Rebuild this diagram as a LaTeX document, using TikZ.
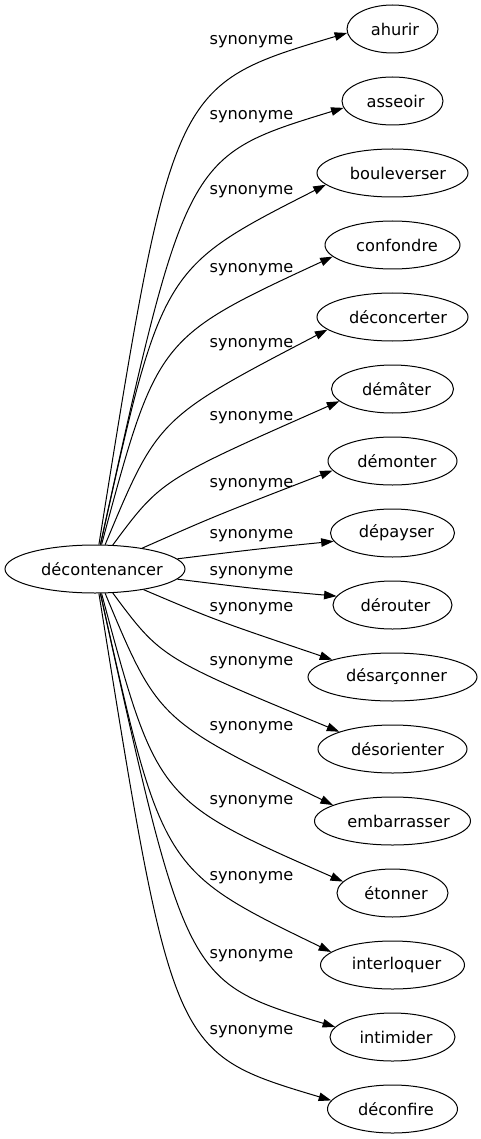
\documentclass[tikz,border=0pt]{standalone}
\usepackage{fontspec}
\setmainfont{DejaVu Sans}
\usetikzlibrary{shapes.geometric,arrows.meta}
\newcommand{\wordtext}[2]{\makebox[0pt]{\hspace*{#1pt}\hspace*{#1pt}#2}}
\begin{document}
\begin{tikzpicture}[x=1pt,y=-1pt,
  every node/.style={font=\fontsize{16.2}{19}\selectfont},
  word/.style={draw, ellipse, line width=1pt, inner sep=0pt, minimum height=48pt},
  lbl/.style={inner sep=0pt},
  edge/.style={draw, line width=1pt, -{Triangle[length=12.5pt,width=8.5pt]}}]
\useasboundingbox (0,0) rectangle (481,1139);
\node[word, minimum width=180pt] (src) at (95,569) {\wordtext{7}{décontenancer}};
\node[word, minimum width=91pt]  (t1)  at (392.5,29)   {\wordtext{2.5}{ahurir}};
\node[word, minimum width=101pt] (t2)  at (392.5,101)  {\wordtext{3}{asseoir}};
\node[word, minimum width=151pt] (t3)  at (392.5,173)  {\wordtext{5.5}{bouleverser}};
\node[word, minimum width=135pt] (t4)  at (392.5,245)  {\wordtext{4.5}{confondre}};
\node[word, minimum width=151pt] (t5)  at (392.5,317)  {\wordtext{5.5}{déconcerter}};
\node[word, minimum width=122pt] (t6)  at (392.5,389)  {\wordtext{4}{démâter}};
\node[word, minimum width=129pt] (t7)  at (392.5,461)  {\wordtext{4.5}{démonter}};
\node[word, minimum width=124pt] (t8)  at (392.5,533)  {\wordtext{4}{dépayser}};
\node[word, minimum width=119pt] (t9)  at (392.5,605)  {\wordtext{3}{dérouter}};
\node[word, minimum width=169pt] (t10) at (392.5,677)  {\wordtext{4}{désarçonner}};
\node[word, minimum width=149pt] (t11) at (392.5,749)  {\wordtext{5}{désorienter}};
\node[word, minimum width=156pt] (t12) at (392.5,821)  {\wordtext{6}{embarrasser}};
\node[word, minimum width=111pt] (t13) at (392.5,893)  {\wordtext{3.5}{étonner}};
\node[word, minimum width=144pt] (t14) at (392.5,965)  {\wordtext{4}{interloquer}};
\node[word, minimum width=125pt] (t15) at (392.5,1037) {\wordtext{3.5}{intimider}};
\node[word, minimum width=130pt] (t16) at (392.5,1109) {\wordtext{3.5}{déconfire}};
\node[lbl] (l1)  at (251.5,42)   {synonyme};
\node[lbl] (l2)  at (251.5,117)  {synonyme};
\node[lbl] (l3)  at (251.5,192)  {synonyme};
\node[lbl] (l4)  at (251.5,270)  {synonyme};
\node[lbl] (l5)  at (251.5,345)  {synonyme};
\node[lbl] (l6)  at (251.5,418)  {synonyme};
\node[lbl] (l7)  at (251.5,485)  {synonyme};
\node[lbl] (l8)  at (251.5,536)  {synonyme};
\node[lbl] (l9)  at (251.5,573)  {synonyme};
\node[lbl] (l10) at (251.5,609)  {synonyme};
\node[lbl] (l11) at (251.5,663)  {synonyme};
\node[lbl] (l12) at (251.5,728)  {synonyme};
\node[lbl] (l13) at (251.5,802)  {synonyme};
\node[lbl] (l14) at (251.5,878)  {synonyme};
\node[lbl] (l15) at (251.5,956)  {synonyme};
\node[lbl] (l16) at (251.5,1032) {synonyme};
\draw[edge] (src) .. controls (172.5,85) .. (t1.185);
\draw[edge] (src) .. controls (186,156) .. (t2.188);
\draw[edge] (src) .. controls (162,268) .. (t3.190);
\draw[edge] (src) .. controls (157,338) .. (t4.191);
\draw[edge] (src) .. controls (158,418) .. (t5.191);
\draw[edge] (src) .. controls (161,480) .. (t6.193);
\draw[edge] (src) .. controls (215,516) .. (t7.189);
\draw[edge] (src) .. controls (257,549) .. (t8.188);
\draw[edge] (src) .. controls (257,589) .. (t9.171);
\draw[edge] (src) .. controls (215,620) .. (t10.164);
\draw[edge] (src) .. controls (161,658) .. (t11.162);
\draw[edge] (src) .. controls (158,720) .. (t12.165);
\draw[edge] (src) .. controls (157,800) .. (t13.167);
\draw[edge] (src) .. controls (162,870) .. (t14.168);
\draw[edge] (src) .. controls (186,982) .. (t15.170);
\draw[edge] (src) .. controls (172.5,1053) .. (t16.172);
\end{tikzpicture}
\end{document}
